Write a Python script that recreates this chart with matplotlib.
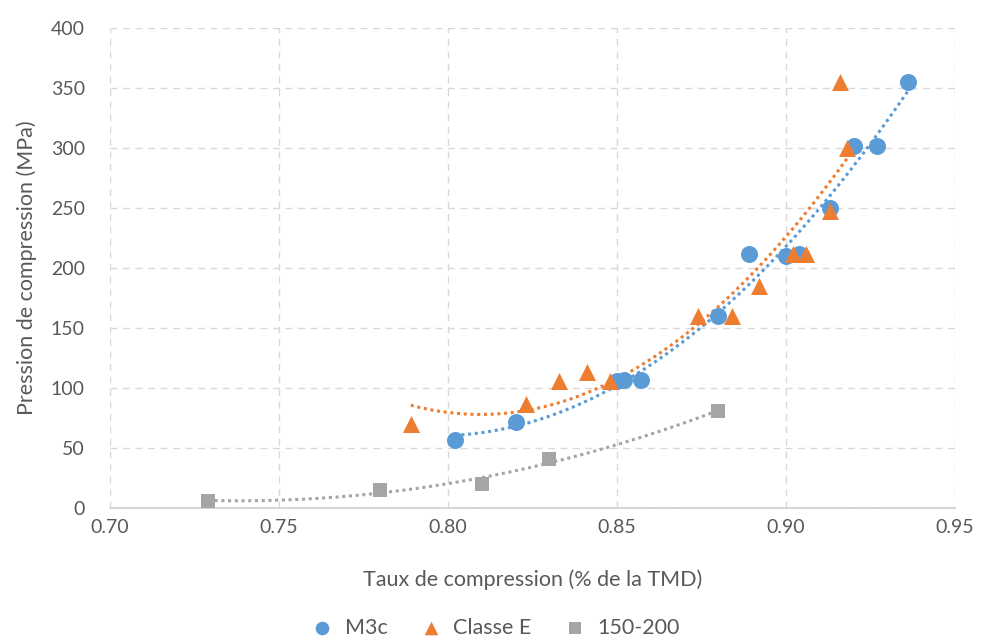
import numpy as np
import matplotlib.pyplot as plt

plt.rcParams["font.family"] = ["Lato", "DejaVu Sans"]

# M3c
m3c_x = [0.802, 0.820, 0.850, 0.852, 0.857, 0.880, 0.889, 0.900, 0.904, 0.913, 0.920, 0.927, 0.936]
m3c_y = [57, 72, 106, 107, 107, 160, 212, 210, 212, 250, 302, 302, 355]

# Classe E
classe_x = [0.789, 0.823, 0.833, 0.841, 0.848, 0.874, 0.884, 0.892, 0.902, 0.906, 0.913, 0.918, 0.916]
classe_y = [70, 87, 106, 113, 106, 160, 160, 185, 212, 212, 248, 300, 355]

# 150-200
g_x = [0.729, 0.780, 0.810, 0.830, 0.880]
g_y = [6, 15, 20, 41, 81]

BLUE = "#5B9BD5"
ORANGE = "#ED7D31"
GRAY = "#A5A5A5"
TXT = "#595959"

fig = plt.figure(figsize=(9.81, 6.41), dpi=100)
ax = fig.add_axes([0.112, 0.2075, 0.8615, 0.7485])

series = [
    (m3c_x, m3c_y, BLUE, "o", 150, "M3c"),
    (classe_x, classe_y, ORANGE, "^", 150, "Classe E"),
    (g_x, g_y, GRAY, "s", 110, "150-200"),
]

for xs, ys, col, mk, s, lab in series:
    xs = np.array(xs)
    ys = np.array(ys)
    # Excel-style 2nd order polynomial trendline
    coef = np.polyfit(xs, ys, 2)
    xx = np.linspace(xs.min(), xs.max(), 200)
    ax.plot(xx, np.polyval(coef, xx), color=col, linestyle=(0, (1, 1.2)),
            linewidth=2.2, zorder=2)
    ax.scatter(xs, ys, s=s, marker=mk, color=col, label=lab, zorder=3,
               linewidths=0)

ax.set_xlim(0.70, 0.95)
ax.set_ylim(0, 400)
ax.set_xticks(np.arange(0.70, 0.951, 0.05))
ax.set_yticks(np.arange(0, 401, 50))
ax.xaxis.set_major_formatter(plt.FuncFormatter(lambda v, p: f"{v:.2f}"))

ax.grid(True, color="#D9D9D9", linestyle=(0, (5, 4)), linewidth=1)
ax.set_axisbelow(True)
for side in ["top", "right", "left"]:
    ax.spines[side].set_visible(False)
ax.spines["bottom"].set_color("#D0D0D0")
ax.spines["bottom"].set_linewidth(1.2)
ax.tick_params(length=0, labelsize=14, colors=TXT)
ax.tick_params(axis="x", pad=8)
ax.tick_params(axis="y", pad=18)

ax.set_xlabel("Taux de compression (% de la TMD)", fontsize=15.5, color=TXT, labelpad=24)
ax.set_ylabel("Pression de compression (MPa)", fontsize=15.5, color=TXT, labelpad=10)

ax.legend(loc="upper center", bbox_to_anchor=(0.45, -0.188), ncol=3, frameon=False,
          fontsize=15.5, labelcolor=TXT, handletextpad=0.05, columnspacing=1.0,
          markerscale=0.8)

fig.savefig("out.png", dpi=100)
